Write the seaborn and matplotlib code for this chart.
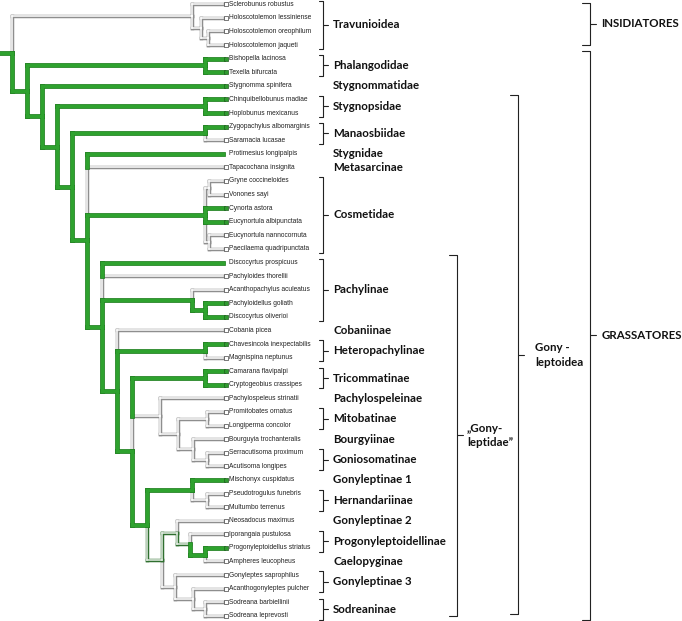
"""
Cladogram of Laniatores (Opiliones) with one character traced on the branches:
green = present, hollow grey = absent, dark hollow = equivocal.
"""

import matplotlib

matplotlib.use("Agg")
import matplotlib.pyplot as plt
import seaborn as sns
from matplotlib.collections import LineCollection

sns.set_theme(style="white")
plt.rcParams["font.family"] = ["Liberation Sans", "DejaVu Sans"]

# terminal taxa, top to bottom
TAXA = [
    "Sclerobunus robustus", "Holoscotolemon lessiniense", "Holoscotolemon oreophilum",
    "Holoscotolemon jaqueti", "Bishopella lacinosa", "Texella bifurcata",
    "Stygnomma spinifera", "Chinquibellobunus madiae", "Hoplobunus mexicanus",
    "Zygopachylus albomarginis", "Saramacia lucasae", "Protimesius longipalpis",
    "Tapacochana insignita", "Gryne coccineloides", "Vonones sayi", "Cynorta astora",
    "Eucynortula albipunctata", "Eucynortula nannocornuta", "Paecilaema quadripunctata",
    "Discocyrtus prospicuus", "Pachyloides thorellii", "Acanthopachylus aculeatus",
    "Pachyloidellus goliath", "Discocyrtus oliverioi", "Cobania picea",
    "Chavesincola inexpectabilis", "Magnispina neptunus", "Camarana flavipalpi",
    "Cryptogeobius crassipes", "Pachylospeleus strinatii", "Promitobates ornatus",
    "Longiperma concolor", "Bourguyia trochanteralis", "Serracutisoma proximum",
    "Acutisoma longipes", "Mischonyx cuspidatus", "Pseudotrogulus funebris",
    "Multumbo terrenus", "Neosadocus maximus", "Iporangaia pustulosa",
    "Progonyleptoidellus striatus", "Ampheres leucopheus", "Gonyleptes saprophilus",
    "Acanthogonyleptes pulcher", "Sodreana barbiellinii", "Sodreana leprevosti",
]
# character state of each terminal (g = present, w = absent)
TIP_STATE = list("wwwwggggggwgwwwggwwgwwggwgwggwwwwwwgwwwwgwwwww")
NO_MARKER = [11, 19]

# (node depth, state, children); an int child is a terminal index
TREE = (11.7, "g", [
    (191.7, "w", [0, (201, "w", [1, (208, "w", [2, 3])])]),
    (26.7, "g", [
        (205, "g", [4, 5]),
        (41.7, "g", [
            6,
            (56.7, "g", [
                (205, "g", [7, 8]),
                (71.7, "g", [
                    (205, "g", [9, 10]),
                    (86.7, "g", [
                        11, 12,
                        (205, "g", [(209, "w", [13, 14]), 15, 16, (209, "w", [17, 18])]),
                        (101.7, "g", [
                            19, 20,
                            (191.7, "g", [21, (205, "g", [22, 23])]),
                            (116.7, "g", [
                                24,
                                (205, "g", [25, 26]),
                                (131.7, "g", [
                                    (205, "g", [27, 28]),
                                    (160, "w", [29, (178, "w", [(207, "w", [30, 31]),
                                                                (193, "w", [32, (207, "w", [33, 34])])])]),
                                    (146.7, "g", [
                                        (191.7, "g", [35, (207, "w", [36, 37])]),
                                        (161.5, "a", [
                                            (176.7, "a", [38, (190, "a", [39, (205, "g", [40, 41])])]),
                                            (175, "w", [42, (193, "w", [43, (205, "w", [44, 45])])]),
                                        ]),
                                    ]),
                                ]),
                            ]),
                        ]),
                    ]),
                ]),
            ]),
        ]),
    ]),
])

# clade labels: (label, first terminal, last terminal)
CLADES = [
    ("Travunioidea", 0, 3), ("Phalangodidae", 4, 5), ("Stygnommatidae", 6, 6),
    ("Stygnopsidae", 7, 8), ("Manaosbiidae", 9, 10), ("Stygnidae", 11, 11),
    ("Metasarcinae", 12, 12), ("Cosmetidae", 13, 18), ("Pachylinae", 19, 23),
    ("Cobaniinae", 24, 24), ("Heteropachylinae", 25, 26), ("Tricommatinae", 27, 28),
    ("Pachylospeleinae", 29, 29), ("Mitobatinae", 30, 31), ("Bourgyiinae", 32, 32),
    ("Goniosomatinae", 33, 34), ("Gonyleptinae 1", 35, 35), ("Hernandariinae", 36, 37),
    ("Gonyleptinae 2", 38, 38), ("Progonyleptoidellinae", 39, 40), ("Caelopyginae", 41, 41),
    ("Gonyleptinae 3", 42, 43), ("Sodreaninae", 44, 45),
]
# higher groups: (label, bracket top, bracket bottom) in terminal units
GROUPS = [
    ("\u201eGony-\nleptidae\u201d", 18.45, 45.0),
    ("Gony -\nleptoidea", 6.67, 44.9),
    ("INSIDIATORES", -0.1, 3.0),
    ("GRASSATORES", 3.41, 45.3),
]
GROUP_X = [457, 518, 589.5, 589.5]
GROUP_PAD = [10, 17, 12, 12]

TIP_X = 223
STYLE = {
    "w": [("#8e8e8e", 2.5, 1), ("white", 1.1, 2)],
    "a": [("#2f6f2f", 2.5, 3), ("#e6efe6", 1.1, 4)],
    "g": [("#1f7d1f", 3.4, 5), ("#2ea22e", 2.4, 6)],
}
segments = {"g": [], "w": [], "a": []}


def place(node):
    """Collect the branch segments of a subtree and return (y, x, state) of its root."""
    if isinstance(node, int):
        return float(node), TIP_X, TIP_STATE[node]
    x, state, kids = node
    placed = [place(k) for k in kids]
    ys = [p[0] for p in placed]
    y = (ys[0] + ys[-1]) / 2
    for i, (cy, cx, cs) in enumerate(placed):
        if cy < y:
            segments[cs].append([(x, cy), (x, min(ys[i + 1], y))])
        elif i > 0:
            segments[cs].append([(x, max(ys[i - 1], y)), (x, cy)])
        segments[cs].append([(x, cy), (cx, cy)])
    return y, x, state


def bracket(ax, x, top, bottom, hook, tick):
    mid = (top + bottom) / 2
    ax.plot([x - hook, x, x, x - hook], [top, top, bottom, bottom],
            color="#222222", lw=0.8, solid_joinstyle="round")
    ax.plot([x, x + tick], [mid, mid], color="#222222", lw=0.8)
    return mid


fig = plt.figure(figsize=(6.82, 6.21), dpi=100)
ax = fig.add_axes([0, 0, 1, 1])
ax.set_xlim(0, 682)
ax.set_ylim(45.38, -0.316)
ax.axis("off")

root_y, root_x, root_state = place(TREE)
segments[root_state].append([(0, root_y), (root_x, root_y)])

for state, layers in STYLE.items():
    for color, width, z in layers:
        ax.add_collection(LineCollection(segments[state], colors=color, linewidths=width,
                                         capstyle="projecting", zorder=z))

for i, name in enumerate(TAXA):
    if i not in NO_MARKER:
        green = TIP_STATE[i] == "g"
        ax.scatter(225.5, i, marker="s", s=7, zorder=7, linewidths=0.5,
                   facecolor="#2f9a2f" if green else "white",
                   edgecolor="#1d5e1d" if green else "#444444")
    ax.text(229, i, name, fontsize=4.8, va="center", ha="left", color="#222222")

label_font = dict(family=["Lato", "DejaVu Sans"], fontweight="bold", fontsize=8.3,
                  color="#111111", va="center", ha="left")
for label, first, last in CLADES:
    y = (first + last) / 2
    if last > first:
        bracket(ax, 323, first - 0.27, last + 0.27, 4.5, 4.5)
    ax.text(333, y, label, **label_font)

for (label, top, bottom), x, pad in zip(GROUPS, GROUP_X, GROUP_PAD):
    mid = bracket(ax, x, top, bottom, 8, 6)
    ax.text(x + pad, mid, label, linespacing=1.4, **label_font)

fig.savefig("out.png", dpi=100)
